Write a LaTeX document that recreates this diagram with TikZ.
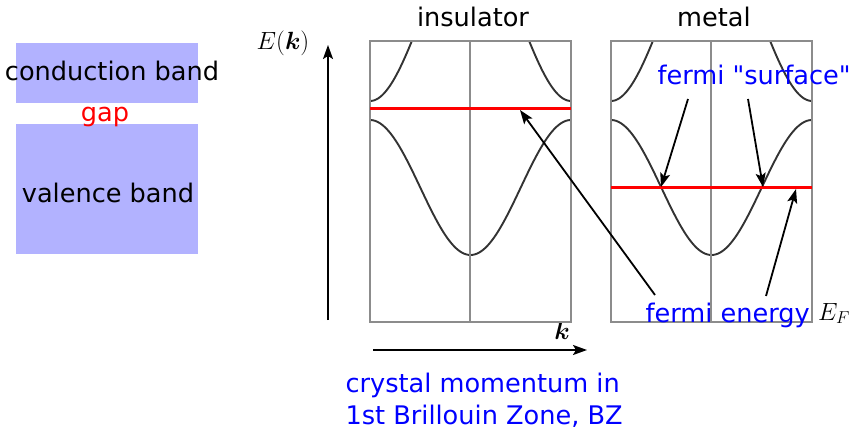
\documentclass[tikz,border=0pt]{standalone}
\usepackage{amsmath}
\usepackage{amssymb}
\usepackage{fontspec}
\setmainfont{DejaVu Sans}
\usetikzlibrary{arrows.meta, positioning}

\tikzset{
    panel/.style={gray!90, line width=1.4},
    band/.style={black!80, line width=1.9, samples=120, smooth},
    fermi/.style={red, line width=3},
    pointer/.style={-{Stealth[length=14pt, width=10pt, inset=3pt]}, line width=1.8},
    note/.style={blue, anchor=base west}
}

\begin{document}
\begin{tikzpicture}[x=1pt, y=-1pt, font=\fontsize{25.6}{31.7}\selectfont]
    \useasboundingbox (0,0) rectangle (851,430);

    % --- 能带示意 ---
    \fill[blue!30] (16,43) rectangle (198,103);
    \fill[blue!30] (16,124) rectangle (198,254);
    \node[anchor=base] (cb) at (112,81) {conduction band};
    \node[anchor=base, red] (gap) at (105,122) {gap};
    \node[anchor=base] (vb) at (108,203) {valence band};

    % 坐标轴
    \coordinate (eb) at (328,320);
    \coordinate (et) at (328,45);
    \draw[pointer] (eb) -- (et);
    \node (elabel) at (283,43) {$E(\boldsymbol{k})$};
    \coordinate (kl) at (373,350);
    \coordinate (kr) at (587,350);
    \draw[pointer] (kl) -- (kr);
    \node[anchor=base] (klabel) at (562,339) {$\boldsymbol{k}$};

    % 两个布里渊区: insulator / metal  (1.791 = 360/201)
    \foreach \px/\ttl/\ef in {370/insulator/109, 611/metal/188}{
        \begin{scope}
            \clip (\px,41) rectangle ({\px+201},322);
            \draw[band] plot[domain=0:201] ({\px+\x}, {187.5-67.5*cos(1.791*\x)});
            \draw[band] plot[domain=0:201] ({\px+\x}, {20+81*cos(1.791*\x)});
        \end{scope}
        \draw[panel] (\px,41) rectangle ({\px+201},322);
        \draw[panel] ({\px+100},41) -- ({\px+100},322);
        \draw[fermi] (\px,\ef) -- ({\px+201},\ef);
        \node[anchor=base] (\ttl) at ({\px+103},27) {\ttl};
    }

    % 标注
    \node[note] (fs) at (654,85) {fermi \textquotedbl surface\textquotedbl};
    \node[note] (fe) at (642,322) {fermi energy};
    \node[anchor=base] (eflabel) at (834,320) {$E_F$};
    \node[note, align=left] (bz) at (342,424) {crystal momentum in\\1st Brillouin Zone, BZ};

    \coordinate (fs1) at (688,99);
    \coordinate (fs2) at (748,99);
    \coordinate (fsl) at (661,187);
    \coordinate (fsr) at (763,187);
    \draw[pointer] (fs1) -- (fsl);
    \draw[pointer] (fs2) -- (fsr);

    \coordinate (fe1) at (655,295);
    \coordinate (fe2) at (766,296);
    \coordinate (efi) at (520,110);
    \coordinate (efm) at (796,189);
    \draw[pointer] (fe1) -- (efi);
    \draw[pointer] (fe2) -- (efm);
\end{tikzpicture}
\end{document}
